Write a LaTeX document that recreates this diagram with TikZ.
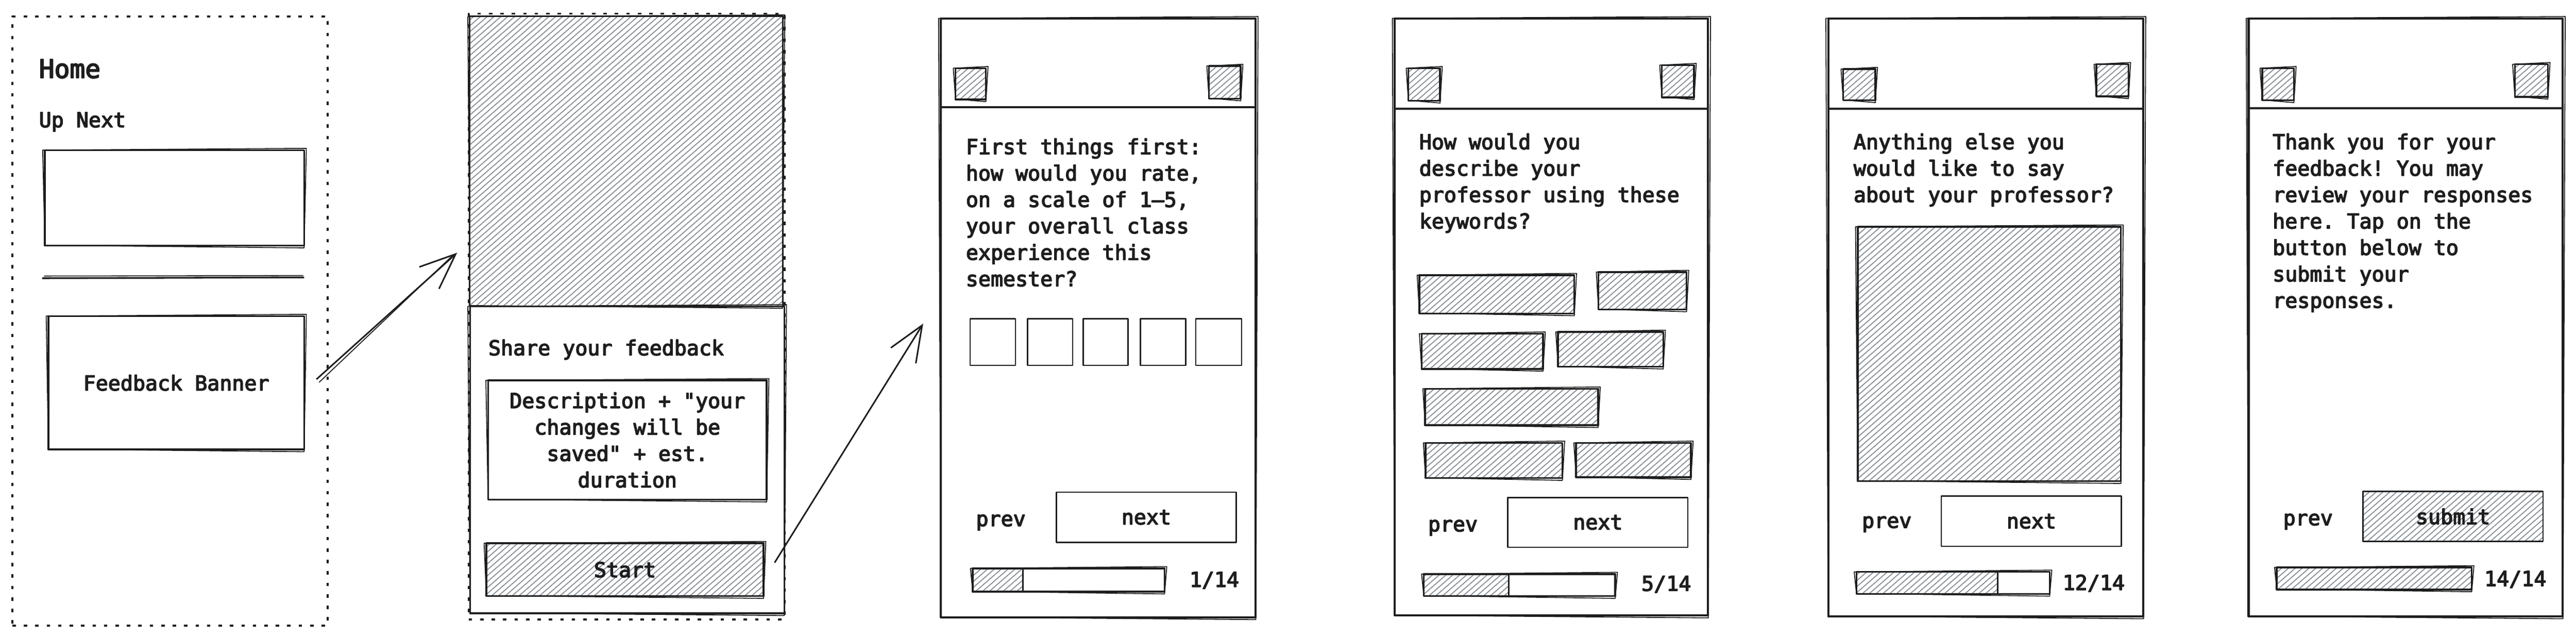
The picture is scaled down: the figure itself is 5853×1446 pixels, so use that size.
\documentclass[tikz,border=0pt]{standalone}
\usepackage{fontspec}
\setmonofont[FakeBold=4]{DejaVu Sans Mono}
\usetikzlibrary{patterns.meta,arrows.meta,fit,calc}
\definecolor{hatchc}{HTML}{868E96}
\definecolor{ink}{HTML}{1E1E1E}
\newcommand\mlines[1]{\begin{tabular}[t]{@{}l@{}}#1\end{tabular}}
% second, slightly displaced stroke round a node: a sketchy look
\newcommand\rough[1]{\draw[ink, line width=0.6pt] ($(#1.north west)+(-3,2)$) -- ($(#1.north east)+(3,-2)$) -- ($(#1.south east)+(-2,3)$) -- ($(#1.south west)+(2,-3)$) -- cycle;}
\begin{document}
\begin{tikzpicture}[x=0.01cm,y=-0.01cm,line join=round,
  every node/.style={font=\ttfamily\fontsize{13.3}{17.07}\selectfont, inner sep=0pt, text=ink},
  dotframe/.style={draw=ink, line width=1.3pt, dash pattern=on 2.2pt off 5.2pt},
  frame/.style={draw=ink, line width=1.35pt},
  sbox/.style={draw=ink, line width=1.15pt},
  tbox/.style={draw=ink, line width=0.85pt},
  hatched/.style={pattern={Lines[angle=41,distance=2.9pt,line width=0.62pt]}, pattern color=hatchc},
  txt/.style={anchor=base west},
  arr/.style={draw=ink, line width=1pt, -{Straight Barb[length=23pt,width=19pt,line width=1pt]}}
]
\fill[white] (0,0) rectangle (5853,1446);
\useasboundingbox (0,0) rectangle (5853,1446);

% ---------- Frame 1: Home ----------
\node[dotframe, fit={(28,37)(745,1421)}] (f1) {};
\node[txt, font=\ttfamily\fontsize{16.5}{20}\selectfont] (home) at (88,177) {Home};
\node[txt] (upnext) at (88,289) {Up Next};
\node[sbox, fit={(102,341)(691,558)}] (unbox) {}; \rough{unbox}
\coordinate (divl) at (96,632);
\coordinate (divr) at (691,630);
\draw[ink, line width=1.1pt] (divl) -- (divr);
\draw[ink, line width=0.6pt] ($(divl)+(4,-5)$) -- ($(divr)+(-2,-4)$);
\node[sbox, fit={(110,718)(691,1021)}] (fb) {}; \rough{fb}
\node (fbt) at (fb.center) {Feedback Banner};

% ---------- Frame 2: Share feedback ----------
\node[dotframe, fit={(1065,31)(1783,1407)}] (f2) {};
\node[sbox, hatched, fit={(1067,37)(1779,696)}] (hero) {}; \rough{hero}
\node[sbox, fit={(1068,696)(1782,1393)}] (sheet) {}; \rough{sheet}
\node[txt] (share) at (1109,807) {Share your feedback};
\node[sbox, fit={(1109,864)(1742,1135)}] (desc) {}; \rough{desc}
\node[align=center] (desct) at (desc.center) {Description + "your\\changes will be\\saved" + est.\\duration};
\node[sbox, hatched, fit={(1105,1234)(1735,1354)}] (start) {}; \rough{start}
\node (startt) at (start.center) {Start};

% ---------- Frame 3: rating ----------
\node[frame, fit={(2138,42)(2853,1402)}] (f3) {}; \rough{f3}
\coordinate (h3l) at (2138,244); \coordinate (h3r) at (2853,244);
\draw[frame] (h3l) -- (h3r);
\node[sbox, hatched, fit={(2171,155)(2240,226)}] (f3a) {}; \rough{f3a}
\node[sbox, hatched, fit={(2747,150)(2819,224)}] (f3b) {}; \rough{f3b}
\node[txt] (q1) at (2194,350) {\mlines{First things first:\\how would you rate,\\on a scale of 1–5,\\your overall class\\experience this\\semester?}};
\node[tbox, fit={(2204,724)(2307,830)}] (r1) {};
\node[tbox, fit={(2335,724)(2437,830)}] (r2) {};
\node[tbox, fit={(2461,724)(2563,830)}] (r3) {};
\node[tbox, fit={(2591,724)(2694,830)}] (r4) {};
\node[tbox, fit={(2717,724)(2821,830)}] (r5) {};
\node[txt] (prev3) at (2217,1195) {prev};
\node[tbox, fit={(2400,1118)(2809,1232)}] (next3) {};
\node (next3t) at (next3.center) {next};
\node[sbox, fit={(2210,1291)(2646,1344)}] (bar3) {}; \rough{bar3}
\node[sbox, hatched, fit={(2210,1291)(2324,1344)}] (fill3) {};
\node[txt] (cnt3) at (2702,1333) {1/14};

% ---------- Frame 4: keywords ----------
\node[frame, fit={(3169,42)(3881,1398)}] (f4) {}; \rough{f4}
\coordinate (h4l) at (3169,247); \coordinate (h4r) at (3881,247);
\draw[frame] (h4l) -- (h4r);
\node[sbox, hatched, fit={(3200,155)(3272,229)}] (f4a) {}; \rough{f4a}
\node[sbox, hatched, fit={(3776,148)(3849,221)}] (f4b) {}; \rough{f4b}
\node[txt] (q2) at (3224,339) {\mlines{How would you\\describe your\\professor using these\\keywords?}};
\node[sbox, hatched, fit={(3225,625)(3577,712)}] (k1) {}; \rough{k1}
\node[sbox, hatched, fit={(3632,618)(3832,703)}] (k2) {}; \rough{k2}
\node[sbox, hatched, fit={(3230,758)(3506,838)}] (k3) {}; \rough{k3}
\node[sbox, hatched, fit={(3540,754)(3779,833)}] (k4) {}; \rough{k4}
\node[sbox, hatched, fit={(3238,883)(3631,966)}] (k5) {}; \rough{k5}
\node[sbox, hatched, fit={(3239,1006)(3550,1086)}] (k6) {}; \rough{k6}
\node[sbox, hatched, fit={(3581,1006)(3842,1084)}] (k7) {}; \rough{k7}
\node[txt] (prev4) at (3244,1207) {prev};
\node[tbox, fit={(3426,1130)(3835,1243)}] (next4) {};
\node (next4t) at (next4.center) {next};
\node[sbox, fit={(3235,1304)(3670,1354)}] (bar4) {}; \rough{bar4}
\node[sbox, hatched, fit={(3235,1304)(3428,1354)}] (fill4) {};
\node[txt] (cnt4) at (3729,1342) {5/14};

% ---------- Frame 5: free text ----------
\node[frame, fit={(4154,42)(4870,1400)}] (f5) {}; \rough{f5}
\coordinate (h5l) at (4154,247); \coordinate (h5r) at (4870,247);
\draw[frame] (h5l) -- (h5r);
\node[sbox, hatched, fit={(4188,157)(4261,228)}] (f5a) {}; \rough{f5a}
\node[sbox, hatched, fit={(4763,146)(4836,219)}] (f5b) {}; \rough{f5b}
\node[txt] (q3) at (4211,339) {\mlines{Anything else you\\would like to say\\about your professor?}};
\node[sbox, hatched, fit={(4221,515)(4819,1093)}] (area5) {}; \rough{area5}
\node[txt] (prev5) at (4230,1199) {prev};
\node[tbox, fit={(4411,1127)(4820,1241)}] (next5) {};
\node (next5t) at (next5.center) {next};
\node[sbox, fit={(4218,1299)(4657,1349)}] (bar5) {}; \rough{bar5}
\node[sbox, hatched, fit={(4218,1299)(4539,1349)}] (fill5) {};
\node[txt] (cnt5) at (4686,1340) {12/14};

% ---------- Frame 6: thank you ----------
\node[frame, fit={(5109,42)(5823,1400)}] (f6) {}; \rough{f6}
\coordinate (h6l) at (5109,246); \coordinate (h6r) at (5823,246);
\draw[frame] (h6l) -- (h6r);
\node[sbox, hatched, fit={(5140,155)(5212,228)}] (f6a) {}; \rough{f6a}
\node[sbox, hatched, fit={(5714,146)(5789,220)}] (f6b) {}; \rough{f6b}
\node[txt] (q4) at (5163,339) {\mlines{Thank you for your\\feedback! You may\\review your responses\\here. Tap on the\\button below to\\submit your\\responses.}};
\node[txt] (prev6) at (5187,1193) {prev};
\node[tbox, hatched, fit={(5369,1116)(5778,1230)}] (submit) {};
\node (submitt) at (submit.center) {submit};
\node[sbox, hatched, fit={(5173,1289)(5616,1339)}] (bar6) {}; \rough{bar6}
\node[txt] (cnt6) at (5644,1331) {14/14};

% ---------- connectors ----------
\coordinate (a1s) at ($(fb.east)+(26,-8)$);
\coordinate (a1e) at ($(f2.west)+(-24,-145)$);
\draw[arr] (a1s) -- (a1e);
\draw[ink, line width=0.6pt] ($(a1s)+(6,7)$) -- ($(a1e)+(-10,6)$);
\coordinate (a2s) at ($(start.east)+(23,-16)$);
\coordinate (a2e) at ($(f3.west)+(-38,13)$);
\draw[arr] (a2s) -- (a2e);
\end{tikzpicture}
\end{document}
